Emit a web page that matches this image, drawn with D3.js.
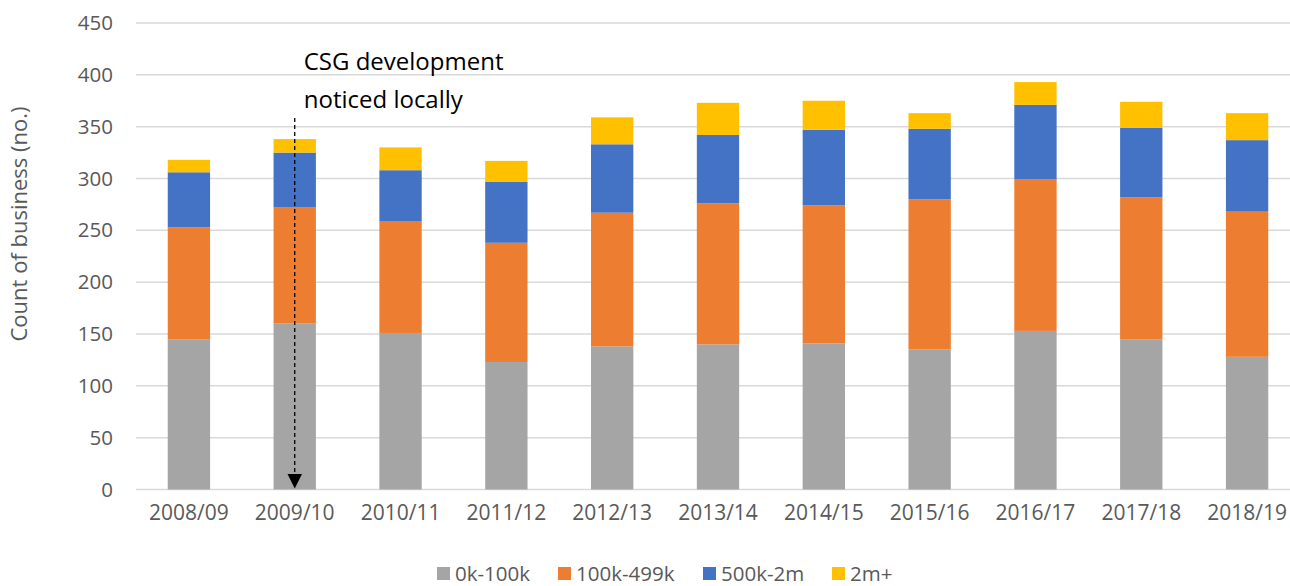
<!DOCTYPE html>
<html>
<head>
<meta charset="utf-8">
<script src="https://cdn.jsdelivr.net/npm/d3@7"></script>
<style>
  html, body { margin: 0; padding: 0; background: #fff; }
  svg { display: block; font-family: "Open Sans", "Liberation Sans", sans-serif; }
  .tick text { fill: #595959; }
</style>
</head>
<body>
<div id="chart"></div>
<script>
const years = ["2008/09", "2009/10", "2010/11", "2011/12", "2012/13", "2013/14",
               "2014/15", "2015/16", "2016/17", "2017/18", "2018/19"];
const seriesNames = ["0k-100k", "100k-499k", "500k-2m", "2m+"];
const small   = [145, 160, 151, 123, 138, 140, 141, 135, 153, 145, 128];
const medium  = [108, 112, 108, 115, 129, 136, 133, 145, 146, 137, 140];
const large   = [ 53,  53,  49,  59,  66,  66,  73,  68,  72,  67,  69];
const xlarge  = [ 12,  13,  22,  20,  26,  31,  28,  15,  22,  25,  26];
const yTicks = [0, 50, 100, 150, 200, 250, 300, 350, 400, 450];
const colors = ["#A5A5A5", "#ED7D31", "#4472C4", "#FFC000"];
const noteLines = ["CSG development", "noticed locally"];
const noteYear = "2009/10";

const W = 1290, H = 586;
const plot = { left: 136, right: 1300, top: 23, bottom: 489.5 };

const rows = years.map((y, i) => ({
  year: y, "0k-100k": small[i], "100k-499k": medium[i], "500k-2m": large[i], "2m+": xlarge[i]
}));
const stacked = d3.stack().keys(seriesNames)(rows);

const svg = d3.select("#chart").append("svg")
  .attr("width", W).attr("height", H);

const x = d3.scaleBand().domain(years)
  .range([plot.left, plot.right])
  .paddingInner(0.6).paddingOuter(0.3);
const y = d3.scaleLinear().domain([0, 450]).range([plot.bottom, plot.top]);

// gridlines
svg.append("g")
  .selectAll("line")
  .data(yTicks)
  .join("line")
  .attr("x1", plot.left).attr("x2", plot.right)
  .attr("y1", d => y(d)).attr("y2", d => y(d))
  .attr("stroke", "#D9D9D9").attr("stroke-width", 1.5);

// y axis labels
svg.append("g")
  .attr("transform", `translate(${plot.left},0)`)
  .call(d3.axisLeft(y).tickValues(yTicks).tickSize(0).tickPadding(23))
  .attr("font-family", null).attr("font-size", 20.5)
  .call(g => g.select(".domain").remove());

// x axis labels
svg.append("g")
  .attr("transform", `translate(0,${plot.bottom})`)
  .call(d3.axisBottom(x).tickSize(0).tickPadding(16))
  .attr("font-family", null).attr("font-size", 21)
  .call(g => g.select(".domain").remove());

// bars
svg.append("g")
  .selectAll("g")
  .data(stacked)
  .join("g")
  .attr("fill", (d, i) => colors[i])
  .selectAll("rect")
  .data(d => d)
  .join("rect")
  .attr("x", d => x(d.data.year))
  .attr("width", x.bandwidth())
  .attr("y", d => y(d[1]))
  .attr("height", d => y(d[0]) - y(d[1]));

// y axis title
svg.append("text")
  .attr("transform", `translate(27,224) rotate(-90)`)
  .attr("text-anchor", "middle")
  .attr("font-size", 22)
  .attr("fill", "#595959")
  .text("Count of business (no.)");

// annotation
const ax = x(noteYear) + x.bandwidth() / 2;
svg.append("defs").append("marker")
  .attr("id", "arrow")
  .attr("viewBox", "0 0 10 10")
  .attr("refX", 10).attr("refY", 5)
  .attr("markerWidth", 15).attr("markerHeight", 15)
  .attr("markerUnits", "userSpaceOnUse")
  .attr("orient", "auto")
  .append("path").attr("d", "M0,0L10,5L0,10Z").attr("fill", "#000");

svg.append("line")
  .attr("x1", ax).attr("x2", ax)
  .attr("y1", 118).attr("y2", y(0) - 1)
  .attr("stroke", "#000").attr("stroke-width", 1.3)
  .attr("stroke-dasharray", "4,3")
  .attr("marker-end", "url(#arrow)");

svg.append("g")
  .selectAll("text")
  .data(noteLines)
  .join("text")
  .attr("x", ax + 9)
  .attr("y", (d, i) => 70 + i * 37.5)
  .attr("font-size", 24)
  .attr("fill", "#000")
  .text(d => d);

// legend
const legendX = [437, 558, 703, 832];
const leg = svg.append("g")
  .selectAll("g")
  .data(seriesNames)
  .join("g")
  .attr("transform", (d, i) => `translate(${legendX[i]},567)`);
leg.append("rect").attr("width", 13).attr("height", 13)
  .attr("fill", (d, i) => colors[i]);
leg.append("text")
  .attr("x", 18).attr("y", 14)
  .attr("font-size", 20.5)
  .attr("fill", "#595959")
  .text(d => d);
</script>
</body>
</html>
